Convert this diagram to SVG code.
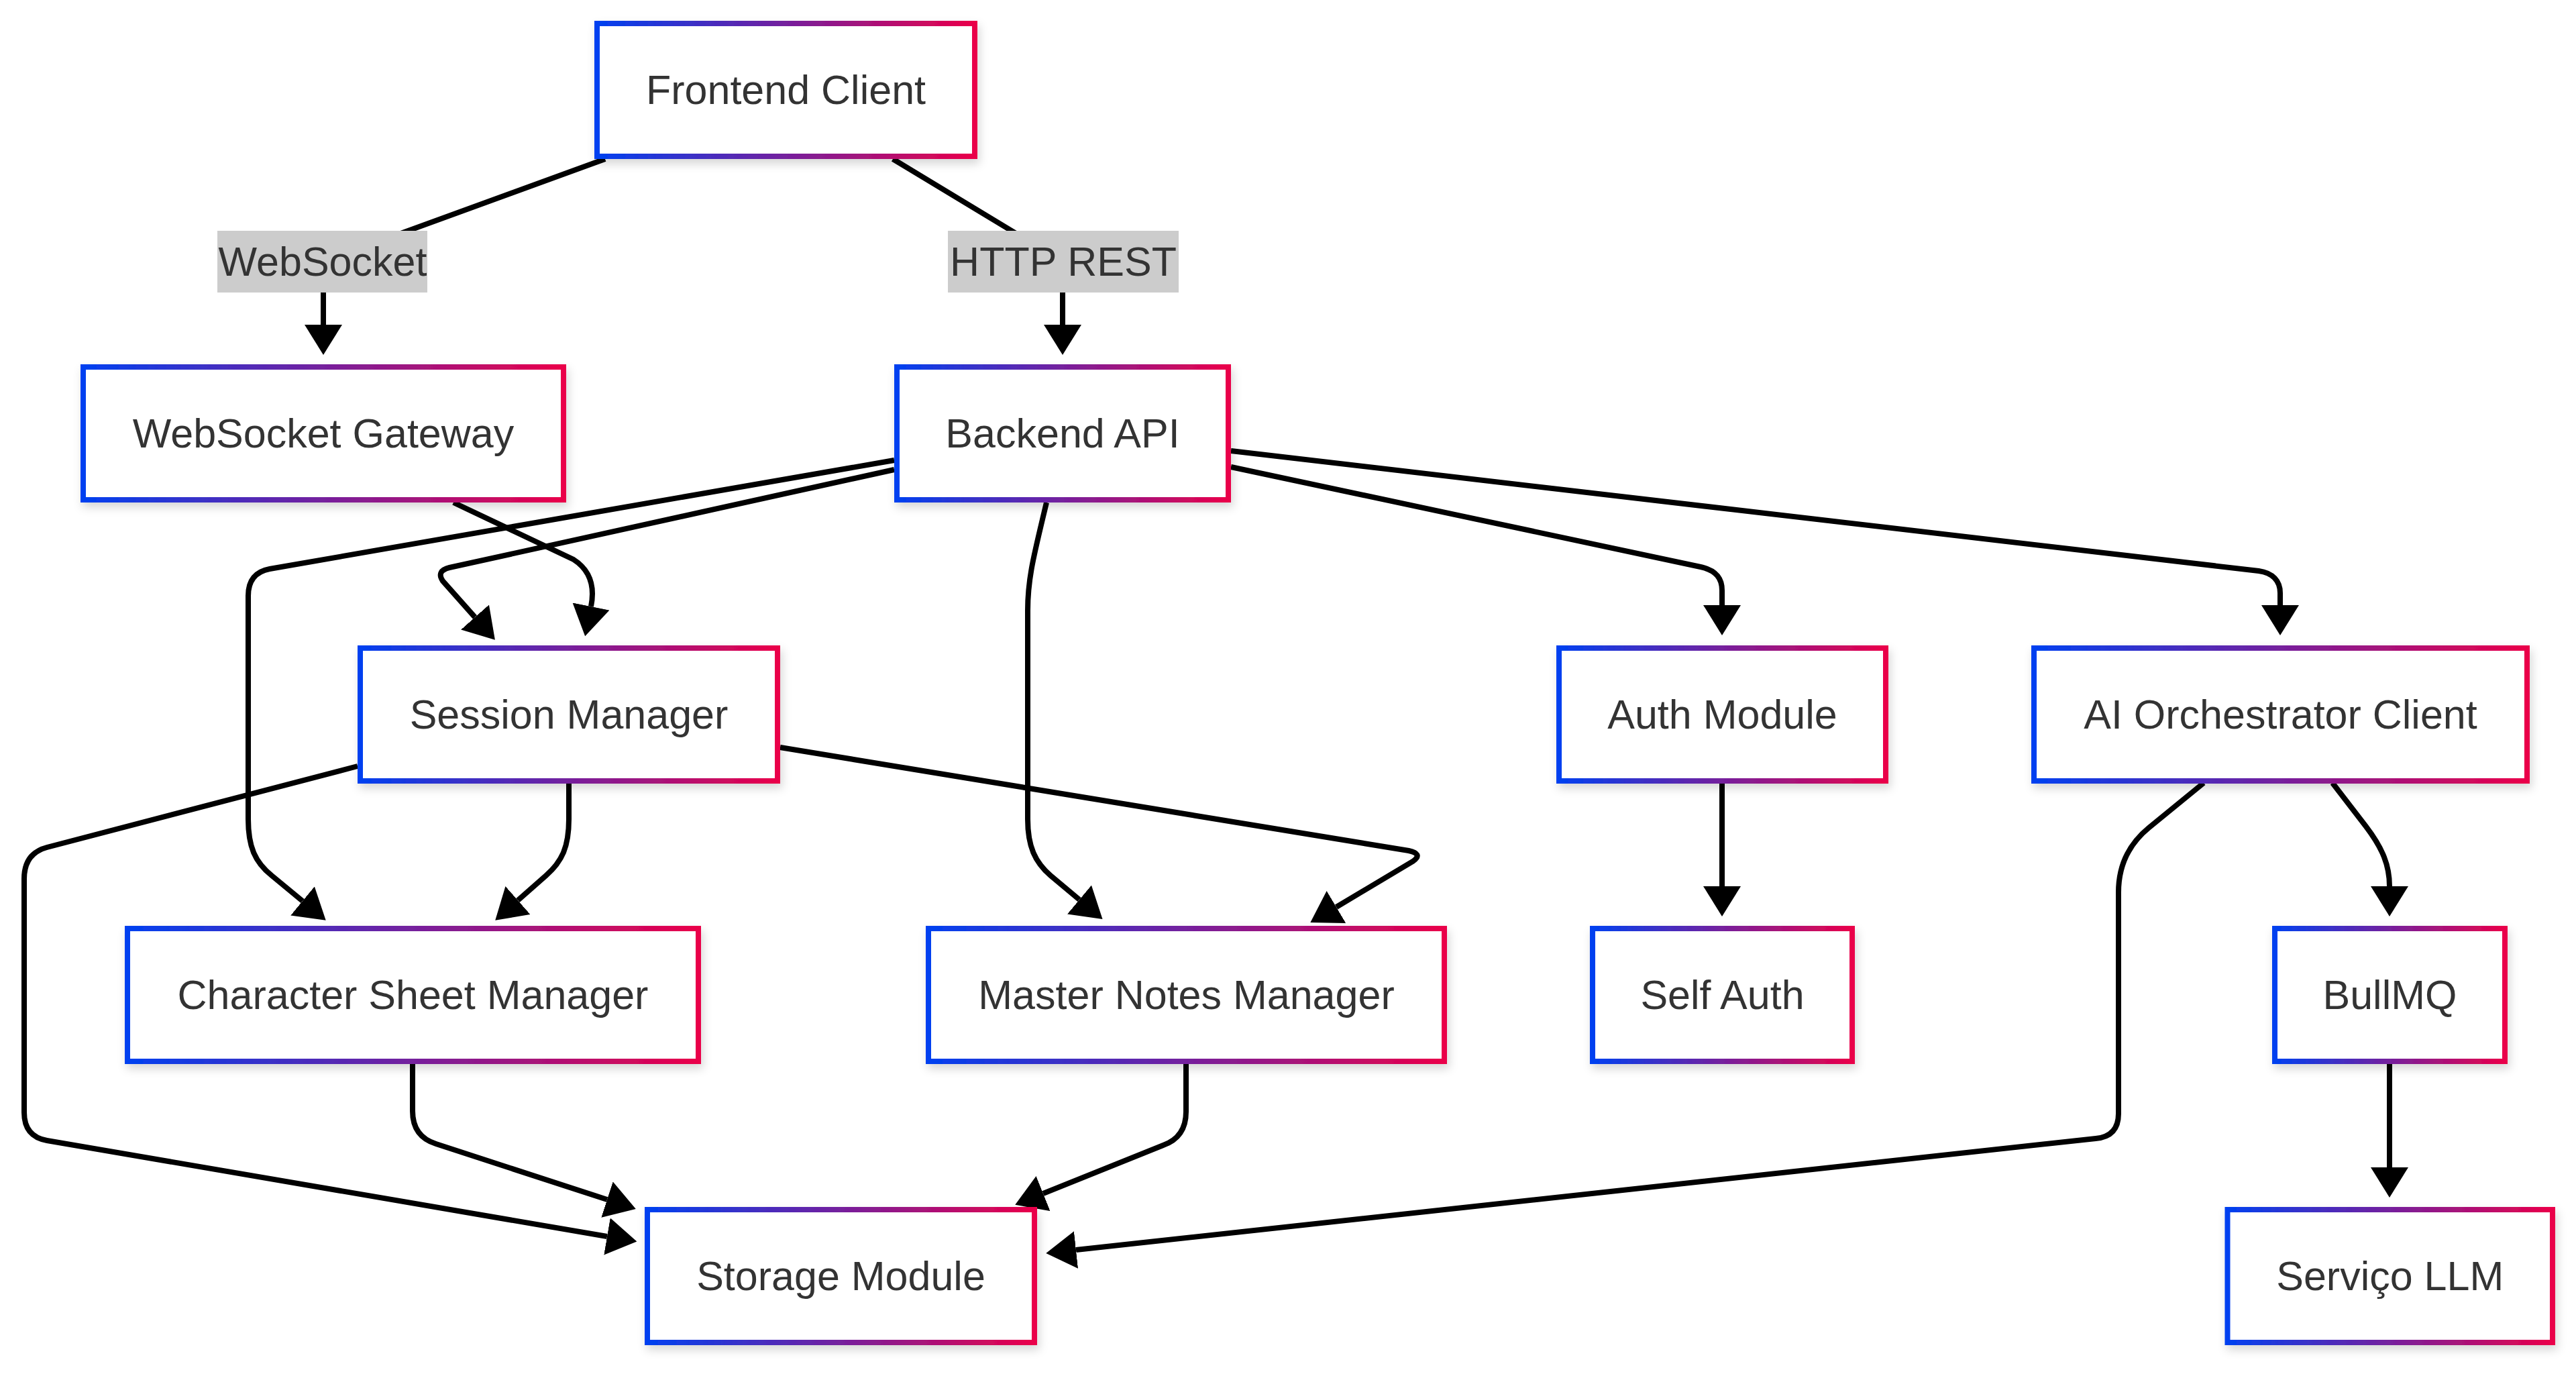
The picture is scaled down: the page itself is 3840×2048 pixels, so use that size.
<svg xmlns="http://www.w3.org/2000/svg" width="3840" height="2048" viewBox="0 0 3840 2048">
<defs>
<linearGradient id="g" x1="0" y1="0" x2="1" y2="0">
<stop offset="0" stop-color="#0040f0"/>
<stop offset="1" stop-color="#ea004a"/>
</linearGradient>
<filter id="sh" x="-10%" y="-20%" width="120%" height="150%">
<feDropShadow dx="3" dy="7" stdDeviation="7" flood-color="#000" flood-opacity="0.16"/>
</filter>
<marker id="ah" markerUnits="userSpaceOnUse" viewBox="0 0 45 56" markerWidth="45" markerHeight="56" refX="0" refY="28" orient="auto">
<path d="M0,0 L45,28 L0,56 z" fill="#000"/>
</marker>
</defs>
<style>
.box{fill:#fff;stroke:url(#g);stroke-width:8;filter:url(#sh)}
.t{font-family:"Liberation Sans",Arial,sans-serif;font-size:61px;fill:#333;text-anchor:middle}
.e{fill:none;stroke:#000;stroke-width:8;marker-end:url(#ah)}
.lb{fill:#cccccc}
</style>
<rect width="3840" height="2048" fill="#fff"/>
<g id="connectors">
<path class="e" d="M902,237 L482,390 L482,484"/>
<path class="e" d="M1331,237 L1584,390 L1584,484"/>
<path class="e" d="M676,749 L855,834 C880,850 887,874 881,904"/>
<path class="e" d="M1333,700 L670,846 Q650,851 660,866 L708,920"/>
<path class="e" d="M1333,686 L402,848 Q370,854 370,888 L370,1221 C370,1262 380,1285 405,1305 L451,1343"/>
<path class="e" d="M1560,749 C1542,825 1532,860 1532,910 L1532,1221 C1532,1262 1543,1285 1566,1305 L1609,1341"/>
<path class="e" d="M1835,696 L2535,845 C2558,850 2567,862 2567,880 L2567,902"/>
<path class="e" d="M1835,672 L3367,851 C3388,854 3399,866 3399,884 L3399,902"/>
<path class="e" d="M848,1167 L848,1221 C848,1262 838,1284 814,1305 L772,1342"/>
<path class="e" d="M1163,1114 L2100,1268 Q2122,1273 2106,1284 L1992,1352"/>
<path class="e" d="M533,1142 L70,1263 Q36,1272 36,1310 L36,1658 Q36,1694 70,1700 L905,1843"/>
<path class="e" d="M615,1586 L615,1656 Q615,1694 650,1705 L905,1788"/>
<path class="e" d="M1768,1586 L1768,1657 Q1768,1695 1734,1707 L1555,1779"/>
<path class="e" d="M2567,1167 L2567,1321"/>
<path class="e" d="M3477,1167 L3527,1232 C3552,1265 3562,1290 3562,1321"/>
<path class="e" d="M3285,1167 L3203,1234 Q3158,1271 3158,1330 L3158,1660 Q3158,1694 3124,1697 L1604,1863"/>
<path class="e" d="M3562,1586 L3562,1740"/>
</g>
<g id="edge-labels">
<g id="label-websocket"><rect class="lb" x="324" y="344" width="313" height="92"/><text class="t" x="481" y="411">WebSocket</text></g>
<g id="label-http"><rect class="lb" x="1413" y="344" width="344" height="92"/><text class="t" x="1585" y="411">HTTP REST</text></g>
</g>
<g id="frontend"><rect class="box" x="890" y="35" width="563" height="198"/><text class="t" x="1171.5" y="155">Frontend Client</text></g>
<g id="ws-gateway"><rect class="box" x="124" y="547" width="716" height="198"/><text class="t" x="482" y="667">WebSocket Gateway</text></g>
<g id="backend"><rect class="box" x="1337" y="547" width="494" height="198"/><text class="t" x="1584" y="667">Backend API</text></g>
<g id="session"><rect class="box" x="537" y="966" width="622" height="198"/><text class="t" x="848" y="1086">Session Manager</text></g>
<g id="auth"><rect class="box" x="2324" y="966" width="487" height="198"/><text class="t" x="2567.5" y="1086">Auth Module</text></g>
<g id="ai"><rect class="box" x="3032" y="966" width="735" height="198"/><text class="t" x="3399.5" y="1086">AI Orchestrator Client</text></g>
<g id="charsheet"><rect class="box" x="190" y="1384" width="851" height="198"/><text class="t" x="615.5" y="1504">Character Sheet Manager</text></g>
<g id="masternotes"><rect class="box" x="1384" y="1384" width="769" height="198"/><text class="t" x="1768.5" y="1504">Master Notes Manager</text></g>
<g id="selfauth"><rect class="box" x="2374" y="1384" width="387" height="198"/><text class="t" x="2567.5" y="1504">Self Auth</text></g>
<g id="bullmq"><rect class="box" x="3391" y="1384" width="343" height="198"/><text class="t" x="3562.5" y="1504">BullMQ</text></g>
<g id="storage"><rect class="box" x="965" y="1803" width="577" height="198"/><text class="t" x="1253.5" y="1923">Storage Module</text></g>
<g id="llm"><rect class="box" x="3320.5" y="1803" width="484.5" height="198"/><text class="t" x="3562.75" y="1923">Serviço LLM</text></g>
</svg>
